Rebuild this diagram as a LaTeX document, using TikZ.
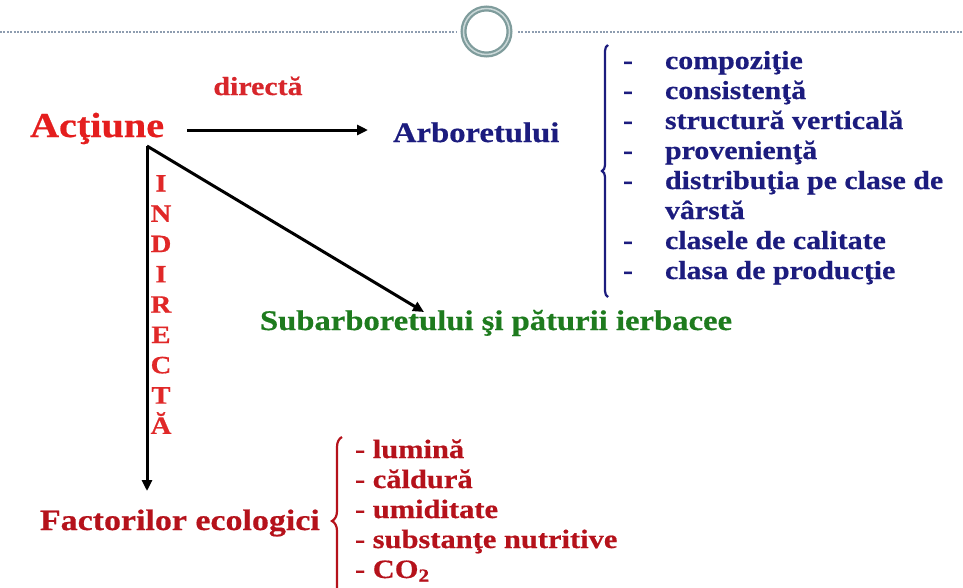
\documentclass[tikz,border=0pt]{standalone}
\usepackage{fontspec}
\setmainfont[FakeStretch=1.15,BoldFeatures={FakeBold=0.6}]{Liberation Serif}
\usetikzlibrary{arrows.meta,decorations.pathreplacing}
\definecolor{actred}{HTML}{E41E1E}
\definecolor{dirred}{HTML}{D7262B}
\definecolor{indred}{HTML}{E02828}
\definecolor{darkred}{HTML}{B5121B}
\definecolor{navy}{HTML}{1C1C7E}
\definecolor{grn}{HTML}{1E7B1E}
\definecolor{ring}{HTML}{7F9C9C}
\definecolor{ringlight}{HTML}{CAD8D8}
\definecolor{dashc}{HTML}{8E9DB0}
\newcommand\myfs[1]{\fontsize{#1}{#1}\selectfont\bfseries}
\begin{document}
\begin{tikzpicture}[x=1pt,y=-1pt,
  txt/.style={inner sep=0pt, outer sep=0pt, anchor=base west},
  conn/.style={line width=3pt, -{Triangle[length=11pt,width=10pt]}},
  dashline/.style={dashc, line width=1.1pt, dash pattern=on 2pt off 1.4pt},
  bluebrace/.style={navy, line width=2.2pt, decorate, decoration={brace, amplitude=6pt}},
  redbrace/.style={darkred, line width=2.2pt, decorate, decoration={brace, amplitude=10pt}},
  bitem/.style={txt, navy, font=\myfs{26}},
  ritem/.style={txt, darkred, font=\myfs{26.5}},
]
\useasboundingbox (0,0) rectangle (963,587);
\clip (0,0) rectangle (963,587);

% top ornament
\draw[dashline] (0,32) -- (456,32);
\draw[dashline] (518,32) -- (963,32);
\draw[ring, line width=6pt] (486.5,31.5) circle [radius=23pt];
\draw[ringlight, line width=1.5pt] (486.5,31.5) circle [radius=23pt];

% main nodes
\node[txt, actred, font=\myfs{35}] (actiune) at (30,137) {Acţiune};
\node[txt, anchor=base, dirred, font=\myfs{26}] (directa) at (258,95) {directă};
\node[txt, navy, font=\myfs{28.4}] (arbor) at (393,142) {Arboretului};
\node[txt, grn, font=\myfs{28.4}] (subarb) at (260,330) {Subarboretului şi păturii ierbacee};
\node[txt, darkred, font=\myfs{29.5}] (factor) at (40,530) {Factorilor ecologici};

% INDIRECTA
\foreach \l [count=\i] in {I,N,D,I,R,E,C,T,Ă}
  \node[txt, anchor=base, indred, font=\myfs{25}] (ind\i) at (161,{191.5+30.3*(\i-1)}) {\l};

% connectors
\coordinate (corner) at (147,146);
\coordinate (hstart) at (187,130);
\coordinate (hend) at (368,130);
\coordinate (dend) at (424,312);
\coordinate (vend) at (147,491);
\draw[conn] (hstart) -- (hend);
\draw[conn] (corner) -- (dend);
\draw[conn] (corner) -- (vend);

% blue list
\draw[bluebrace] (608,297) -- (608,45);
\foreach \t [count=\i] in {compoziţie,consistenţă,structură verticală,provenienţă,distribuţia pe clase de}
  \node[bitem] (b\i) at (665,{69+30*(\i-1)}) {\t};
\node[bitem] (b6) at (665,219) {vârstă};
\node[bitem] (b7) at (665,249) {clasele de calitate};
\node[bitem] (b8) at (665,279) {clasa de producţie};
\foreach \i/\y in {1/69,2/99,3/129,4/159,5/189,7/249,8/279}
  \node[bitem] (d\i) at (623,\y) {-};

% red list
\draw[redbrace] (342,605) -- (342,437);
\node[ritem] (r1) at (355,458) {- lumină};
\node[ritem] (r2) at (355,488) {- căldură};
\node[ritem] (r3) at (355,518) {- umiditate};
\node[ritem] (r4) at (355,548) {- substanţe nutritive};
\node[ritem] (r5) at (355,578) {- CO\textsubscript{2}};
\end{tikzpicture}
\end{document}
